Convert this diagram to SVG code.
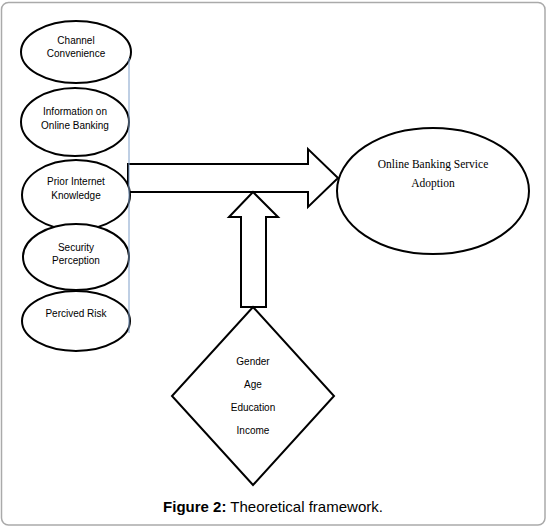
<svg xmlns="http://www.w3.org/2000/svg" width="547" height="527" viewBox="0 0 547 527">
<style>
.sh{fill:#fff;stroke:#000;stroke-width:2}
.t{font-family:"Liberation Sans",Arial,sans-serif;font-size:10px;fill:#000;text-anchor:middle}
.tr{font-family:"Liberation Serif","Times New Roman",serif;font-size:11.5px;fill:#000;text-anchor:middle}
</style>
<rect x="1.5" y="2.5" width="543.5" height="522.5" rx="7" fill="#fff" stroke="#aaa" stroke-width="1.5"/>
<g id="connectors">
<polygon class="sh" points="128,164 308,164 308,149 338,178 308,207 308,192 128,192"/>
<polygon class="sh" points="253,192 278,217 266,217 266,307 241,307 241,217 229,217"/>
</g>
<g id="n1"><ellipse class="sh" cx="76" cy="52" rx="55" ry="31"/><text class="t" x="76" y="44">Channel</text><text class="t" x="76" y="57">Convenience</text></g>
<g id="n2"><ellipse class="sh" cx="75" cy="122" rx="54" ry="34"/><text class="t" x="75" y="115">Information on</text><text class="t" x="75" y="128.500">Online Banking</text></g>
<g id="n3"><ellipse class="sh" cx="76" cy="195" rx="54" ry="35"/><text class="t" x="76" y="185">Prior Internet</text><text class="t" x="76" y="198.500">Knowledge</text></g>
<g id="n4"><ellipse class="sh" cx="76" cy="257" rx="53" ry="33"/><text class="t" x="76" y="251">Security</text><text class="t" x="76" y="263.500">Perception</text></g>
<g id="n5"><ellipse class="sh" cx="76" cy="321" rx="54" ry="30"/><text class="t" x="76" y="317">Percived Risk</text></g>
<line x1="129" y1="58" x2="129" y2="333" stroke="#7f9fc9" stroke-width="1"/>
<g id="outcome"><ellipse class="sh" cx="433" cy="191" rx="96" ry="63"/><text class="tr" x="433" y="168">Online Banking Service</text><text class="tr" x="433" y="187">Adoption</text></g>
<g id="demographics"><polygon class="sh" points="253,307 334,396 253,485 172,396"/>
<text class="t" x="253" y="364.500">Gender</text><text class="t" x="253" y="387.500">Age</text><text class="t" x="253" y="410.500">Education</text><text class="t" x="253" y="433.500">Income</text></g>
<text x="273" y="512" font-family="'Liberation Sans',Arial,sans-serif" font-size="15px" text-anchor="middle"><tspan font-weight="bold">Figure 2:</tspan> Theoretical framework.</text>
</svg>
